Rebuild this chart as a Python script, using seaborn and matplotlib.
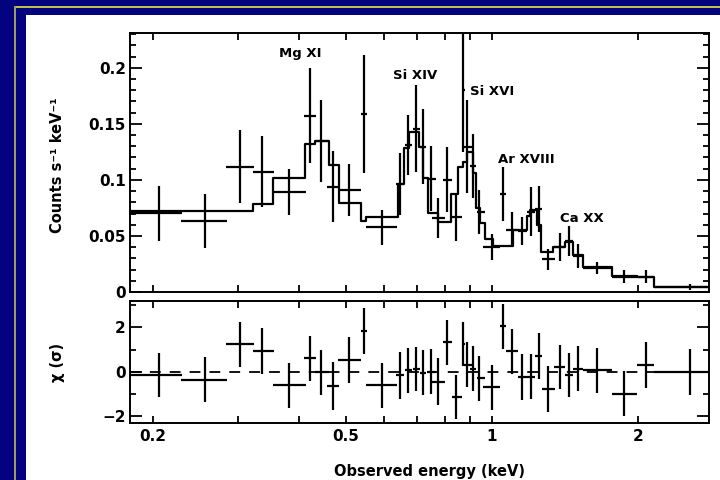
import numpy as np
import pandas as pd
import matplotlib
matplotlib.use("Agg")
import matplotlib.pyplot as plt
from matplotlib.patches import Rectangle
from matplotlib.lines import Line2D
from matplotlib.ticker import FixedLocator, FixedFormatter, NullFormatter, MultipleLocator, FuncFormatter
import seaborn as sns

# Binned spectrum: bin centre and edges (keV), count rate and error
energy = [0.2058, 0.256, 0.303, 0.336, 0.3815, 0.4214, 0.444, 0.471, 0.507, 0.5445,
          0.592, 0.645, 0.672, 0.697, 0.721, 0.748, 0.775, 0.809, 0.843, 0.873,
          0.889, 0.912, 0.940, 1.000, 1.052, 1.101, 1.155, 1.203, 1.250, 1.302,
          1.381, 1.441, 1.502, 1.649, 1.871, 2.075, 2.56]
energy_lo = [0.178, 0.229, 0.2823, 0.321, 0.353, 0.4106, 0.4315, 0.458, 0.4823, 0.537,
             0.549, 0.634, 0.6625, 0.686, 0.7106, 0.733, 0.751, 0.794, 0.826, 0.866,
             0.8756, 0.901, 0.930, 0.958, 1.039, 1.069, 1.133, 1.179, 1.225, 1.266,
             1.344, 1.414, 1.467, 1.543, 1.764, 1.988, 2.161]
energy_hi = [0.2296, 0.2845, 0.323, 0.355, 0.413, 0.4336, 0.461, 0.4827, 0.536, 0.5525,
             0.636, 0.659, 0.683, 0.7106, 0.731, 0.767, 0.80, 0.826, 0.869, 0.880,
             0.908, 0.927, 0.967, 1.039, 1.069, 1.133, 1.179, 1.225, 1.266, 1.349,
             1.414, 1.467, 1.543, 1.764, 1.988, 2.161, 3.0]
rate = [0.0703, 0.0634, 0.1119, 0.1074, 0.0893, 0.1574, 0.1344, 0.0940, 0.0911, 0.1590,
        0.0578, 0.0962, 0.1310, 0.1455, 0.1297, 0.1009, 0.0658, 0.1000, 0.0667, 0.1800,
        0.1297, 0.1125, 0.0714, 0.0404, 0.0875, 0.0554, 0.0545, 0.0717, 0.0741, 0.0292,
        0.0404, 0.0455, 0.0321, 0.0217, 0.0137, 0.0137, 0.0047]
rate_err = [0.0245, 0.0238, 0.0329, 0.0317, 0.0208, 0.0427, 0.0367, 0.0317, 0.0234, 0.0525,
            0.0156, 0.0279, 0.0268, 0.0387, 0.0335, 0.0290, 0.0179, 0.0290, 0.0212, 0.0550,
            0.0414, 0.0286, 0.0200, 0.0116, 0.0238, 0.0156, 0.0126, 0.0216, 0.0208, 0.0092,
            0.0125, 0.0138, 0.0107, 0.0055, 0.0055, 0.0055, 0.0025]

# Residuals in units of sigma
resid = [-0.16, -0.38, 1.23, 0.93, -0.62, 0.61, -0.02, -0.65, 0.53, 1.85,
         -0.62, -0.17, 0.06, 0.12, -0.06, 0.00, -0.45, 1.32, -1.17, 1.25,
         0.32, 0.14, -0.30, -0.70, 2.06, 0.93, -0.24, -0.24, 0.70, -0.80,
         0.21, -0.17, 0.14, 0.06, -1.01, 0.29, 0.00]
resid_err = [1.0, 1.02, 1.04, 1.06, 1.02, 1.02, 1.02, 1.07, 1.04, 1.03,
             1.02, 1.06, 1.02, 1.0, 1.02, 1.02, 1.06, 1.0, 1.0, 1.0,
             1.0, 1.04, 1.02, 1.02, 1.02, 1.02, 1.04, 1.02, 1.04, 1.04,
             1.0, 1.0, 1.02, 1.02, 1.02, 1.04, 1.04]

# Folded model, step histogram (edges in keV, one value per bin)
model_edges = [0.1793, 0.3220, 0.3530, 0.4115, 0.4315, 0.4611, 0.4826, 0.5362, 0.5491, 0.6408,
               0.6588, 0.6755, 0.7083, 0.7220, 0.7371, 0.7750, 0.8219, 0.8520, 0.8725, 0.8867,
               0.9125, 0.9256, 0.9447, 0.9673, 1.006, 1.106, 1.179, 1.198, 1.240, 1.260,
               1.338, 1.414, 1.467, 1.543, 1.765, 1.988, 2.161, 3.0]
model_rate = [0.0726, 0.0786, 0.1015, 0.1321, 0.1346, 0.1131, 0.0792, 0.0637, 0.0667, 0.0964,
              0.1283, 0.1424, 0.1297, 0.1015, 0.0703, 0.0628, 0.0875, 0.1119, 0.1163, 0.1253,
              0.1060, 0.0747, 0.0613, 0.0471, 0.0411, 0.0554, 0.0679, 0.0732, 0.0598, 0.0360,
              0.0404, 0.0449, 0.0330, 0.0226, 0.0146, 0.0131, 0.0047]

line_names = ["Mg XI", "Si XIV", "Si XVI", "Ar XVIII", "Ca XX"]
line_x = [0.402, 0.693, 1.001, 1.175, 1.533]
line_y = [0.2125, 0.193, 0.179, 0.1185, 0.0658]

NAVY = "#03037f"


def style_axis(ax):
    for s in ax.spines.values():
        s.set_linewidth(1.4)
        s.set_color("black")
    ax.set_xscale("log")
    ax.set_xlim(0.1794, 2.80)
    ax.xaxis.set_major_locator(FixedLocator([0.2, 0.5, 1, 2]))
    ax.xaxis.set_minor_locator(FixedLocator([0.3, 0.4, 0.6, 0.7, 0.8, 0.9]))
    ax.xaxis.set_minor_formatter(NullFormatter())
    ax.tick_params(axis="x", which="both", direction="in", top=True, bottom=True,
                   length=5, width=1.3, pad=4, labelsize=11, colors="black")
    ax.tick_params(axis="y", which="major", direction="in", left=True, right=True,
                   length=8.5, width=1.3, pad=3, labelsize=11, colors="black")
    ax.tick_params(axis="y", which="minor", direction="in", left=True, right=True,
                   length=4.3, width=1.3, colors="black")
    ax.set_facecolor("white")


sns.set_theme(style="ticks")
plt.rcParams["font.family"] = ["DejaVu Sans"]
plt.rcParams["font.weight"] = "bold"
plt.rcParams["text.color"] = "black"
plt.rcParams["axes.labelcolor"] = "black"

fig = plt.figure(figsize=(7.2, 4.8), dpi=100, facecolor=NAVY)

# white slide panel and the thin yellow frame, kept behind the axes
fig.patches.append(Rectangle((26 / 720, 0), 1, 465 / 480, transform=fig.transFigure,
                             facecolor="white", edgecolor="none", zorder=-5))
fig.lines.append(Line2D([15 / 720, 1], [1 - 7 / 480, 1 - 7 / 480], transform=fig.transFigure,
                        color="#e6e63c", linewidth=1.2, zorder=-5))
fig.lines.append(Line2D([15 / 720, 15 / 720], [0, 1 - 7 / 480], transform=fig.transFigure,
                        color="#a0a060", linewidth=1.4, zorder=-5))

ax1 = fig.add_axes([130 / 720, 1 - 292 / 480, 579 / 720, 259 / 480])
ax2 = fig.add_axes([130 / 720, 1 - 423 / 480, 579 / 720, 122 / 480])
ax1.set_zorder(2)
ax2.set_zorder(2)

spec = pd.DataFrame({"energy": energy, "lo": energy_lo, "hi": energy_hi,
                     "rate": rate, "err": rate_err, "resid": resid, "rerr": resid_err})
xerr = [spec["energy"] - spec["lo"], spec["hi"] - spec["energy"]]

# Top panel: data + model
model = pd.DataFrame({"edge": model_edges, "rate": model_rate + [model_rate[-1]]})
sns.lineplot(data=model, x="edge", y="rate", drawstyle="steps-post", color="black",
             linewidth=1.6, estimator=None, sort=False, ax=ax1)
ax1.errorbar(spec["energy"], spec["rate"], xerr=xerr, yerr=spec["err"], fmt="none",
             ecolor="black", elinewidth=1.6, capsize=0)
for name, x, y in zip(line_names, line_x, line_y):
    ax1.text(x, y, name, ha="center", va="center", fontsize=9.5, fontweight="bold",
             color="black")

style_axis(ax1)
ax1.set_ylim(0, 0.231)
ax1.yaxis.set_major_locator(MultipleLocator(0.05))
ax1.yaxis.set_minor_locator(MultipleLocator(0.01))
ax1.yaxis.set_major_formatter(FuncFormatter(lambda v, p: f"{v:g}"))
ax1.set_xticklabels([])
ax1.set_xlabel("")
ax1.set_ylabel("Counts s\u207b\u00b9 keV\u207b\u00b9", fontsize=10.5, fontweight="bold")
ax1.yaxis.set_label_coords(-0.112, 0.49)

# Bottom panel: residuals
ax2.axhline(0, color="black", linewidth=1.3, dashes=(6, 5))
ax2.errorbar(spec["energy"], spec["resid"], xerr=xerr, yerr=spec["rerr"], fmt="none",
             ecolor="black", elinewidth=1.6, capsize=0)
style_axis(ax2)
ax2.set_ylim(-2.33, 3.2)
ax2.yaxis.set_major_locator(FixedLocator([-2, 0, 2]))
ax2.yaxis.set_minor_locator(FixedLocator([-1, 1, 3]))
ax2.xaxis.set_major_formatter(FixedFormatter(["0.2", "0.5", "1", "2"]))
ax2.set_ylabel("\u03c7 (\u03c3)", fontsize=10.5, fontweight="bold")
ax2.yaxis.set_label_coords(-0.112, 0.5)
ax2.set_xlabel("Observed energy (keV)", fontsize=10.5, fontweight="bold")
ax2.xaxis.set_label_coords(0.518, -0.34)

fig.savefig("out.png", dpi=100, facecolor=fig.get_facecolor())
